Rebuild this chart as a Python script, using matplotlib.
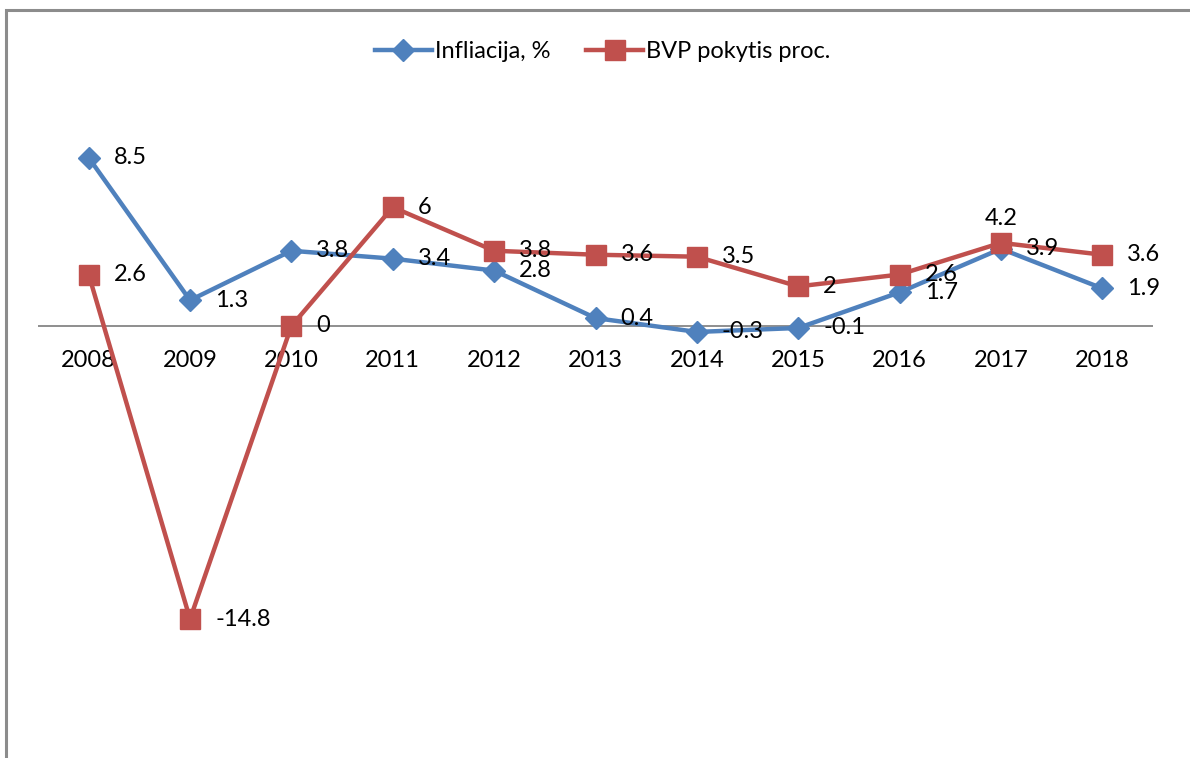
import numpy as np
import matplotlib.pyplot as plt
from matplotlib.patches import Rectangle

# Données
years = ["2008", "2009", "2010", "2011", "2012", "2013", "2014", "2015", "2016", "2017", "2018"]
infliacija = [8.5, 1.3, 3.8, 3.4, 2.8, 0.4, -0.3, -0.1, 1.7, 3.9, 1.9]
bvp = [2.6, -14.8, 0, 6, 3.8, 3.6, 3.5, 2, 2.6, 4.2, 3.6]

blue = "#4F81BD"
red = "#C0504D"

plt.rcParams["font.family"] = ["Lato", "DejaVu Sans"]
fs = 17

fig = plt.figure(figsize=(11.9, 7.58), dpi=100)
W, H = 1190, 758

# cadre gris du graphique
fig.patches.append(Rectangle((6 / W, -0.1), 1.2, 1 - 10 / H + 0.1, transform=fig.transFigure,
                             fill=False, edgecolor="#8c8c8c", linewidth=2.2))

ax = fig.add_axes([38 / W, 1 - 722 / H, 1115 / W, 594 / H])
x = np.arange(len(years))

l1, = ax.plot(x, infliacija, color=blue, linewidth=3.2, marker="D", markersize=11,
              markeredgecolor=blue, label="Infliacija, %", zorder=3)
l2, = ax.plot(x, bvp, color=red, linewidth=3.2, marker="s", markersize=14,
              markeredgecolor=red, label="BVP pokytis proc.", zorder=4)

ax.set_xlim(-0.5, len(years) - 0.5)
ax.set_ylim(-20, 10)
ax.axhline(0, color="#868686", linewidth=1.3, zorder=1)

# étiquettes de valeurs
for xi, v in zip(x, infliacija):
    ax.annotate(f"{v:g}", (xi, v), xytext=(18, 0), textcoords="offset points",
                ha="left", va="center", fontsize=fs, zorder=5)
for xi, v in zip(x, bvp):
    if years[xi] == "2017":
        ax.annotate(f"{v:g}", (xi, v), xytext=(0, 10), textcoords="offset points",
                    ha="center", va="bottom", fontsize=fs, zorder=5)
    else:
        ax.annotate(f"{v:g}", (xi, v), xytext=(18, 0), textcoords="offset points",
                    ha="left", va="center", fontsize=fs, zorder=5)

# noms des années sous l'axe zéro
for xi, yr in zip(x, years):
    ax.annotate(yr, (xi, 0), xytext=(0, -25), textcoords="offset points",
                ha="center", va="center", fontsize=fs)

ax.set_xticks([])
ax.set_yticks([])
for s in ax.spines.values():
    s.set_visible(False)
ax.patch.set_alpha(0)

fig.legend(handles=[l1, l2], loc="center", bbox_to_anchor=(603 / W, 1 - 52 / H),
           ncol=2, frameon=False, fontsize=fs, handlelength=2.4, handletextpad=0.15,
           columnspacing=1.5, markerscale=1.0)

plt.savefig("out.png", dpi=100)
